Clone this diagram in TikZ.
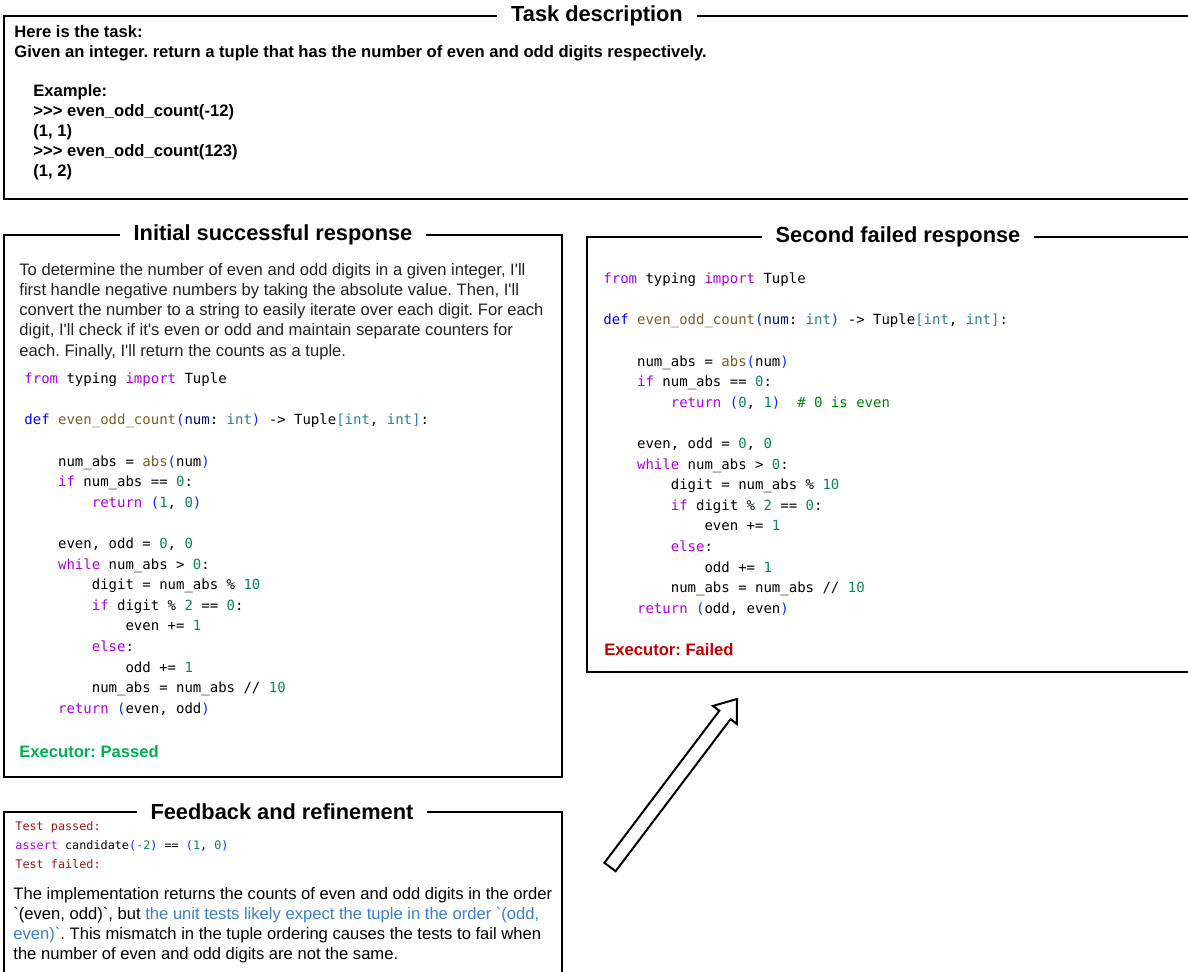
\documentclass[tikz,border=0pt]{standalone}
\usepackage{fontspec}
\setmainfont{Liberation Sans}[Ligatures=TeXOff]
\setmonofont{DejaVu Sans Mono}
\usetikzlibrary{calc}
\frenchspacing
\definecolor{pykwcol}{HTML}{AF00DB}
\definecolor{pydefcol}{HTML}{0000FF}
\definecolor{pyfncol}{HTML}{795E26}
\definecolor{pyvarcol}{HTML}{001080}
\definecolor{pytypecol}{HTML}{267F99}
\definecolor{pynumcol}{HTML}{098658}
\definecolor{pybrcol}{HTML}{0431FA}
\definecolor{pysqcol}{HTML}{3478D8}
\definecolor{pycomcol}{HTML}{008000}
\definecolor{teststrcol}{HTML}{A31515}
\definecolor{passcol}{HTML}{00B050}
\definecolor{failcol}{HTML}{C00000}
\definecolor{hintblue}{HTML}{3C7FC8}
\definecolor{bodygray}{HTML}{222222}
\newcommand{\pykw}[1]{\textcolor{pykwcol}{#1}}
\newcommand{\pydef}[1]{\textcolor{pydefcol}{#1}}
\newcommand{\pyfn}[1]{\textcolor{pyfncol}{#1}}
\newcommand{\pyvar}[1]{\textcolor{pyvarcol}{#1}}
\newcommand{\pytype}[1]{\textcolor{pytypecol}{#1}}
\newcommand{\pynum}[1]{\textcolor{pynumcol}{#1}}
\newcommand{\pybr}[1]{\textcolor{pybrcol}{#1}}
\newcommand{\pysq}[1]{\textcolor{pysqcol}{#1}}
\newcommand{\pycom}[1]{\textcolor{pycomcol}{#1}}
\newcommand{\codeind}[1]{\hspace*{#1\fontcharwd\font`0}}
\tikzset{
    panel/.style = {draw=black, line width=1pt},
    paneltitle/.style = {fill=white, inner xsep=7pt, inner ysep=1pt, font=\bfseries\fontsize{10.9}{13}\selectfont},
    tasktext/.style = {anchor=north west, inner sep=0pt, align=left, font=\bfseries\fontsize{8.3}{10}\selectfont},
    bodytext/.style = {anchor=north west, inner sep=0pt, align=left, text=bodygray, font=\fontsize{8.3}{10.1}\selectfont},
    codetext/.style = {anchor=north west, inner sep=0pt, align=left, font=\ttfamily\fontsize{7}{10.3}\selectfont},
    smallcode/.style = {anchor=north west, inner sep=0pt, align=left, font=\ttfamily\fontsize{5.9}{9.5}\selectfont},
    verdict/.style = {anchor=west, inner sep=0pt, font=\bfseries\fontsize{8.3}{10}\selectfont},
    bigarrow/.style = {draw=black, line width=1pt, fill=white, line join=miter}
}
\begin{document}
\begin{tikzpicture}[x=0.5pt, y=-0.5pt]
\clip (0,0) rectangle (1188,972);
%
% panels
\draw[panel] (4,16) rectangle (1200,199);
\draw[panel] (4,235) rectangle (562,777);
\draw[panel] (587,237) rectangle (1200,672);
\draw[panel] (4,812) rectangle (562,990);
%
\node[paneltitle] at (597,16) (tasktitle) {Task description};
\node[paneltitle] at (273,235) (inittitle) {Initial successful response};
\node[paneltitle] at (898,237) (secondtitle) {Second failed response};
\node[paneltitle] at (282,812) (feedtitle) {Feedback and refinement};
%
% task description
\node[tasktext] at (14,24.8) (taskhead) {Here is the task:\\
Given an integer. return a tuple that has the number of even and odd digits respectively.};
\node[tasktext] at (33,83.8) (taskexample) {Example:\\
>>> even\_odd\_count(-12)\\
(1, 1)\\
>>> even\_odd\_count(123)\\
(1, 2)};
%
% initial response
\node[bodytext] at (19,262.8) (initplan) {To determine the number of even and odd digits in a given integer, I'll\\
first handle negative numbers by taking the absolute value. Then, I'll\\
convert the number to a string to easily iterate over each digit. For each\\
digit, I'll check if it's even or odd and maintain separate counters for\\
each. Finally, I'll return the counts as a tuple.};
\node[codetext] at (24,372.5) (initcode) {\pykw{from} typing \pykw{import} Tuple\\
\mbox{}\\
\pydef{def} \pyfn{even\_odd\_count}\pybr{(}\pyvar{num}: \pytype{int}\pybr{)} -> Tuple\pysq{[}\pytype{int}, \pytype{int}\pysq{]}:\\
\mbox{}\\
\codeind{4}num\_abs = \pyfn{abs}\pybr{(}num\pybr{)}\\
\codeind{4}\pykw{if} num\_abs == \pynum{0}:\\
\codeind{8}\pykw{return} \pybr{(}\pynum{1}, \pynum{0}\pybr{)}\\
\mbox{}\\
\codeind{4}even, odd = \pynum{0}, \pynum{0}\\
\codeind{4}\pykw{while} num\_abs > \pynum{0}:\\
\codeind{8}digit = num\_abs \% \pynum{10}\\
\codeind{8}\pykw{if} digit \% \pynum{2} == \pynum{0}:\\
\codeind{12}even += \pynum{1}\\
\codeind{8}\pykw{else}:\\
\codeind{12}odd += \pynum{1}\\
\codeind{8}num\_abs = num\_abs // \pynum{10}\\
\codeind{4}\pykw{return} \pybr{(}even, odd\pybr{)}};
\node[verdict, text=passcol] at (19,752) (initverdict) {Executor: Passed};
%
% second response
\node[codetext] at (603,272.5) (secondcode) {\pykw{from} typing \pykw{import} Tuple\\
\mbox{}\\
\pydef{def} \pyfn{even\_odd\_count}\pybr{(}\pyvar{num}: \pytype{int}\pybr{)} -> Tuple\pysq{[}\pytype{int}, \pytype{int}\pysq{]}:\\
\mbox{}\\
\codeind{4}num\_abs = \pyfn{abs}\pybr{(}num\pybr{)}\\
\codeind{4}\pykw{if} num\_abs == \pynum{0}:\\
\codeind{8}\pykw{return} \pybr{(}\pynum{0}, \pynum{1}\pybr{)}\codeind{2}\pycom{\# 0 is even}\\
\mbox{}\\
\codeind{4}even, odd = \pynum{0}, \pynum{0}\\
\codeind{4}\pykw{while} num\_abs > \pynum{0}:\\
\codeind{8}digit = num\_abs \% \pynum{10}\\
\codeind{8}\pykw{if} digit \% \pynum{2} == \pynum{0}:\\
\codeind{12}even += \pynum{1}\\
\codeind{8}\pykw{else}:\\
\codeind{12}odd += \pynum{1}\\
\codeind{8}num\_abs = num\_abs // \pynum{10}\\
\codeind{4}\pykw{return} \pybr{(}odd, even\pybr{)}};
\node[verdict, text=failcol] at (604,650) (secondverdict) {Executor: Failed};
%
% feedback
\node[smallcode] at (15,821) (feedtests) {\textcolor{teststrcol}{Test passed:}\\
\pykw{assert} candidate\pybr{(}\pynum{-2}\pybr{)} == \pybr{(}\pynum{1}, \pynum{0}\pybr{)}\\
\textcolor{teststrcol}{Test failed:}};
\node[bodytext, text=black, font=\fontsize{8.3}{10}\selectfont] at (13,886.8) (feedtext) {The implementation returns the counts of even and odd digits in the order\\
`(even, odd)`, but \textcolor{hintblue}{the unit tests likely expect the tuple in the order `(odd,}\\
\textcolor{hintblue}{even)`}. This mismatch in the tuple ordering causes the tests to fail when\\
the number of even and odd digits are not the same.};
%
% refinement arrow
\coordinate (arrowtail) at (610,867);
\coordinate (arrowtip) at (737,699);
\coordinate (arrowbase) at ($(arrowtip)!0.095!(arrowtail)$);
\draw[bigarrow] ($(arrowtail)!3.5pt!90:(arrowtip)$) -- ($(arrowbase)!3.5pt!-90:(arrowtail)$)
    -- ($(arrowbase)!7.5pt!-90:(arrowtail)$) -- (arrowtip)
    -- ($(arrowbase)!7.5pt!90:(arrowtail)$) -- ($(arrowbase)!3.5pt!90:(arrowtail)$)
    -- ($(arrowtail)!3.5pt!-90:(arrowtip)$) -- cycle;

\end{tikzpicture}
\end{document}
